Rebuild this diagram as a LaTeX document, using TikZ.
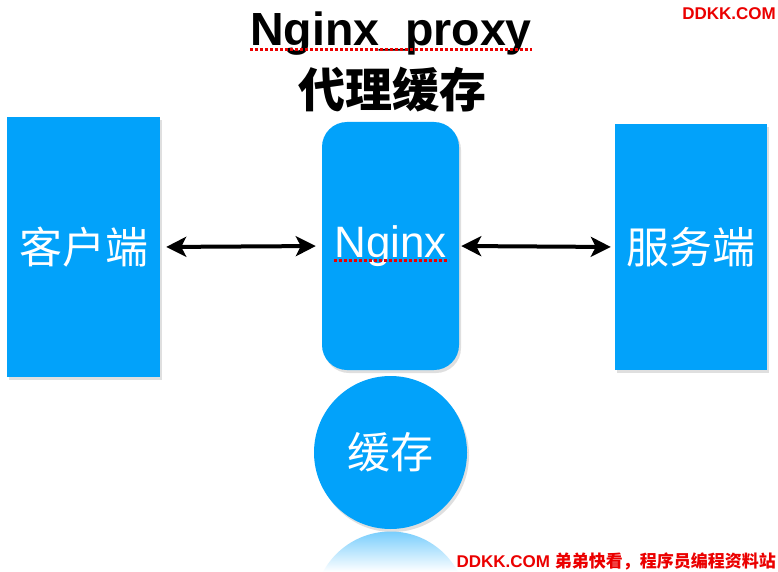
\documentclass[tikz,border=0pt]{standalone}
\usepackage{fontspec}
\setmainfont{Liberation Sans}
\newfontfamily\cjk{Noto Sans CJK SC}
\usetikzlibrary{arrows.meta,shadows}
\definecolor{boxblue}{RGB}{2,162,250}
\definecolor{markred}{RGB}{235,0,0}

\begin{document}
\begin{tikzpicture}[x=1pt, y=-1pt,
    box/.style={fill=boxblue, draw=none, text=white, inner sep=0pt,
      font=\cjk\fontsize{43}{48}\selectfont,
      drop shadow={opacity=0.25, shadow xshift=2pt, shadow yshift=-3pt}},
    flow/.style={draw=black, line width=4pt,
      arrows={Stealth[length=20pt,width=20pt,inset=5pt]-Stealth[length=20pt,width=20pt,inset=5pt]}},
    spell/.style={draw=markred, line width=3pt, dash pattern=on 3pt off 2pt},
    headline/.style={inner sep=0pt, text=black},
    watermark/.style={inner sep=0pt, text=markred, font=\bfseries\fontsize{17}{20}\selectfont}]
  \useasboundingbox[fill=white] (0,0) rectangle (778,572);

  % title
  \node[headline, anchor=base, font=\bfseries\fontsize{46.5}{50}\selectfont] (title) at (391,46) {Nginx\_proxy};
  \node[headline, font=\cjk\bfseries\fontsize{47}{52}\selectfont] (subtitle) at (392,90) {代理缓存};
  \path[spell] ([yshift=-4pt]title.base west) -- ([yshift=-4pt]title.base east);

  % boxes
  \node[box, minimum width=153pt, minimum height=260pt] (client) at (83.5,247) {客户端};
  \node[box, rounded corners=25pt, minimum width=137pt, minimum height=248pt,
    font=\fontsize{44}{48}\selectfont] (nginx) at (390.5,246) {Nginx};
  \node[box, minimum width=152pt, minimum height=246pt] (server) at (691,247) {服务端};
  \node[box, circle, minimum size=153pt] (cache) at (390.5,452.5) {缓存};
  \path[spell] ([xshift=-57pt,yshift=-3pt]nginx.base) -- ([xshift=58pt,yshift=-3pt]nginx.base);

  % reflection
  \begin{scope}
    \clip (390.5,608) circle[radius=76.5];
    \shade[top color=boxblue!55, bottom color=white] (300,530) rectangle (480,572);
  \end{scope}

  % links
  \path[flow, shorten <=6pt, shorten >=6pt] (client.east) -- (nginx.west);
  \path[flow, shorten <=2pt, shorten >=4pt] (nginx.east) -- (server.west);

  % site marks
  \node[watermark, anchor=base east] (site) at (776,20) {DDKK.COM};
  \node[watermark, anchor=base east] (footer) at (776,567) {DDKK.COM {\cjk 弟弟快看，程序员编程资料站}};
\end{tikzpicture}
\end{document}
